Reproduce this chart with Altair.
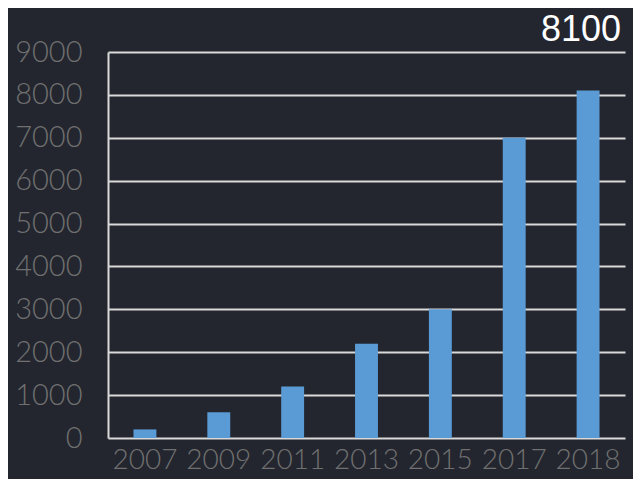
import altair as alt
import pandas as pd

years = ["2007", "2009", "2011", "2013", "2015", "2017", "2018"]
values = [200, 600, 1200, 2200, 3000, 7000, 8100]

df = pd.DataFrame({"year": years, "value": values})

x = alt.X("year:N", sort=years, title=None,
          scale=alt.Scale(paddingInner=0.69, paddingOuter=0.345),
          axis=alt.Axis(labelAngle=0, labelFontSize=28, labelColor="#707070",
                        labelFont="Lato", labelFontWeight=300, labelPadding=8,
                        ticks=False, domain=False, grid=False))
y = alt.Y("value:Q", title=None,
          scale=alt.Scale(domain=[0, 9000], nice=False),
          axis=alt.Axis(values=list(range(0, 9001, 1000)), format="d",
                        labelFontSize=29, labelColor="#707070", labelFont="Lato",
                        labelFontWeight=300, labelPadding=26,
                        ticks=False, domain=True, domainColor="#d9d9d9", domainWidth=2,
                        grid=True, gridColor="#d9d9d9", gridWidth=2))

bars = alt.Chart(df).mark_bar(color="#5b9bd5").encode(x=x, y=y)

label = alt.Chart(df).transform_filter(alt.datum.year == "2018").mark_text(
    color="white", fontSize=36, font="Liberation Sans", baseline="middle",
    align="center", dx=-7
).encode(x=alt.X("year:N", sort=years), y=alt.value(-22), text="value:Q")

chart = alt.layer(bars, label).properties(
    width=517, height=386,
    background="#23262f",
    padding={"left": 100, "top": 44, "right": 8, "bottom": 41},
    autosize=alt.AutoSizeParams(type="none"),
).configure_view(stroke=None)

chart.save("out.html", embed_options={"renderer": "svg", "actions": False})
